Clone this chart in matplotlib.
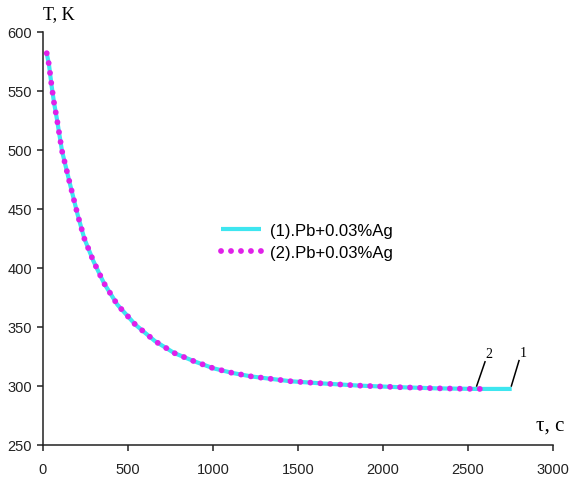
import numpy as np
import matplotlib.pyplot as plt

# time, s and temperature, K
t = [22, 35, 51, 65, 81, 112, 159, 204, 243, 296, 359, 437, 543, 659, 771,
     888, 1002, 1116, 1229, 1343, 1457, 1629, 1861, 2090, 2316, 2547, 2610]
T = [582, 572.5, 554, 540, 527, 499, 471, 445, 425, 406, 387, 369, 352, 338, 328,
     321, 315, 311, 308, 306, 304, 302.3, 300.3, 299, 298, 297.5, 297.5]
t_end1 = 2757
T_end1 = 297.5

labels = ['(1).Pb+0.03%Ag', '(2).Pb+0.03%Ag']
xticks = [0, 500, 1000, 1500, 2000, 2500, 3000]
yticks = [250, 300, 350, 400, 450, 500, 550, 600]

plt.rcParams['font.family'] = ['Liberation Sans', 'DejaVu Sans']

fig = plt.figure(figsize=(5.71, 4.81), dpi=100)
ax = fig.add_axes([0.0753, 0.0728, 0.8932, 0.8586])

ax.plot(t + [t_end1], T + [T_end1], color='#3ee6f0', lw=3.0, label=labels[0],
        solid_capstyle='butt')
ax.plot(t, T, color='#e020e8', lw=4.2, linestyle=(0, (0.01, 1.7)),
        dash_capstyle='round', label=labels[1])

# curve number leaders
ax.plot([2551, 2600], [300, 320.5], color='black', lw=1.1)
ax.plot([2755, 2800], [300, 321.5], color='black', lw=1.1)
ax.text(2605, 322, '2', fontsize=10, family='Liberation Serif', ha='left', va='bottom')
ax.text(2805, 323, '1', fontsize=10, family='Liberation Serif', ha='left', va='bottom')

ax.set_xlim(0, 3000)
ax.set_ylim(250, 600)
ax.set_xticks(xticks)
ax.set_yticks(yticks)
for s in ['top', 'right']:
    ax.spines[s].set_visible(False)
for s in ['left', 'bottom']:
    ax.spines[s].set_linewidth(1.1)
    ax.spines[s].set_color('#222222')
ax.tick_params(direction='out', length=4, width=1.1, labelsize=10.5,
               colors='#222222', pad=4)
ax.tick_params(axis='x', pad=8)

leg = ax.legend(loc='center left', bbox_to_anchor=(0.32, 0.493), frameon=False,
                fontsize=12, handlelength=2.4, handletextpad=0.5, labelspacing=0.45)

fig.text(43 / 571, 1 - 15 / 481, 'T, K', family='Liberation Serif', fontsize=13,
         ha='left', va='center')
fig.text(536 / 571, 1 - 426 / 481, 'τ, c', family='Liberation Serif', fontsize=15,
         ha='left', va='center')

fig.savefig('out.png', dpi=100)
